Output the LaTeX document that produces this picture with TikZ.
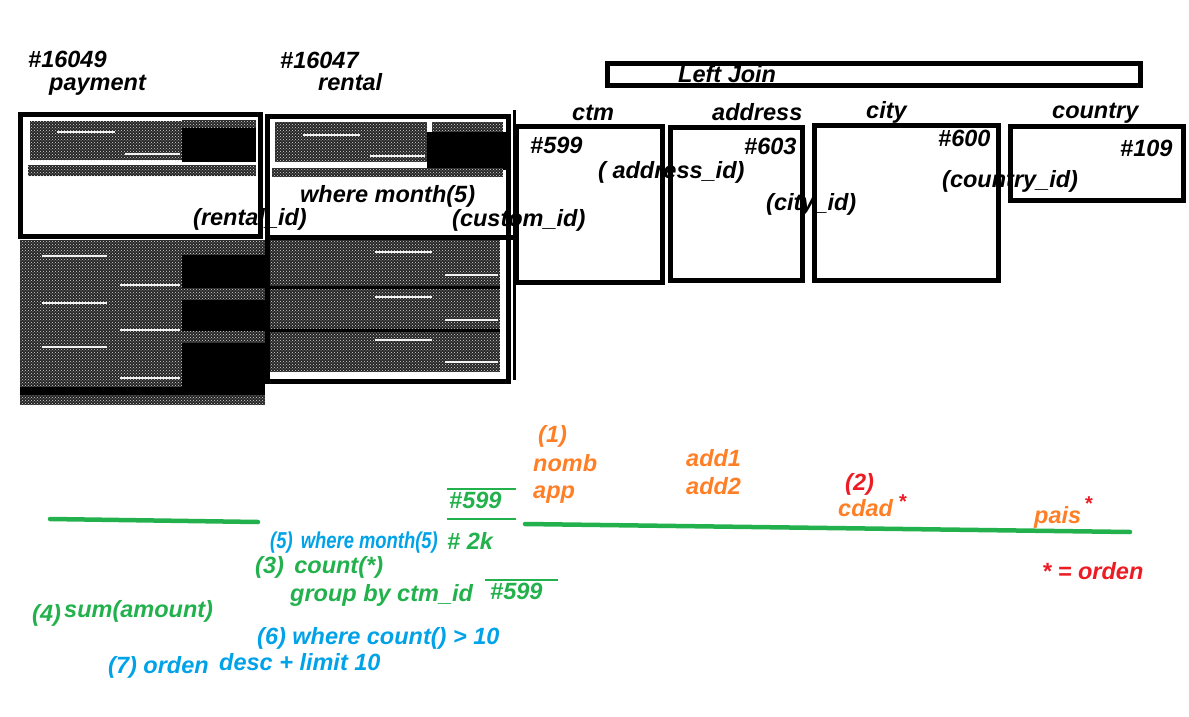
\documentclass[tikz,border=0pt]{standalone}
\usepackage{fontspec}
\setmainfont{Liberation Sans}
\usetikzlibrary{patterns}
\definecolor{porange}{RGB}{255,127,39}
\definecolor{pgreen}{RGB}{34,177,76}
\definecolor{pblue}{RGB}{0,162,232}
\definecolor{pred}{RGB}{237,28,36}
\tikzset{
  lbl/.style={font=\bfseries\itshape\fontsize{23.5}{26}\selectfont, inner sep=0pt, anchor=base west},
  thinlbl/.style={font=\bfseries\itshape\fontsize{23}{26}\selectfont, inner sep=0pt, anchor=base west, xscale=0.8},
  starlbl/.style={font=\bfseries\fontsize{20}{22}\selectfont, inner sep=0pt, anchor=base west, text=pred},
  frame/.style={draw=black, line width=5pt, inner sep=0pt},
  noisy/.style={fill=black!85, postaction={pattern=crosshatch dots, pattern color=white!70!gray}},
  solidblk/.style={fill=black},
  streak/.style={draw=white!90!gray, line width=2.5pt},
  gline/.style={draw=pgreen, line width=4.5pt, line cap=round},
  gthin/.style={draw=pgreen, line width=1.5pt}
}
\newcommand{\boxnode}[5]{% name, x1, y1, x2, y2
  \node[frame, minimum width={#4-#2}, minimum height={#5-#3}] (#1) at ({(#2+#4)/2},{(#3+#5)/2}) {};}
\begin{document}
\begin{tikzpicture}[x=1pt, y=-1pt]
\useasboundingbox[fill=white] (0,0) rectangle (1189,717);

% ---------- payment ----------
\path[noisy] (30,121) rectangle (182,160);
\path[noisy] (182,120) rectangle (256,128);
\path[solidblk] (182,128) rectangle (256,162);
\path[noisy] (28,165) rectangle (256,176);
\draw[streak] (57,132) -- (115,132);
\draw[streak] (125,154) -- (180,154);
\boxnode{paybox}{20}{114}{260}{236}
\path[noisy] (20,240) rectangle (182,387);
\path[solidblk] (20,387) rectangle (182,395);
\path[noisy] (20,395) rectangle (265,405);
\path[noisy] (182,240) rectangle (265,255);
\path[solidblk] (182,255) rectangle (265,288);
\path[noisy] (182,288) rectangle (265,300);
\path[solidblk] (182,300) rectangle (265,331);
\path[noisy] (182,331) rectangle (265,343);
\path[solidblk] (182,343) rectangle (265,395);
\draw[streak] (42,256) -- (107,256);
\draw[streak] (42,303) -- (107,303);
\draw[streak] (42,347) -- (107,347);
\draw[streak] (120,285) -- (180,285);
\draw[streak] (120,330) -- (180,330);
\draw[streak] (120,378) -- (180,378);

% ---------- rental ----------
\path[noisy] (275,122) rectangle (427,162);
\path[noisy] (432,122) rectangle (503,132);
\path[solidblk] (427,132) rectangle (508,170);
\path[noisy] (272,168) rectangle (503,177);
\draw[streak] (303,135) -- (360,135);
\draw[streak] (370,156) -- (425,156);
\boxnode{rentbox}{267}{116}{508}{381}
\draw[line width=5pt] (265,237) -- (515,237);
\path[noisy] (270,240) rectangle (500,372);
\draw[line width=3pt] (270,287) -- (500,287);
\draw[line width=3pt] (270,330) -- (500,330);
\draw[streak] (375,252) -- (432,252);
\draw[streak] (375,297) -- (432,297);
\draw[streak] (375,340) -- (432,340);
\draw[streak] (445,275) -- (498,275);
\draw[streak] (445,320) -- (498,320);
\draw[streak] (445,362) -- (498,362);
\draw[line width=3pt] (514,110) -- (514,380);

% ---------- join boxes ----------
\boxnode{joinbox}{607}{64}{1140}{86}
\boxnode{ctmbox}{516}{126}{662}{282}
\boxnode{addrbox}{670}{127}{802}{280}
\boxnode{citybox}{814}{125}{998}{280}
\boxnode{ctrybox}{1010}{126}{1183}{200}

% ---------- top labels ----------
\node[lbl] (n16049) at (28,68) {\#16049};
\node[lbl] (npay) at (49,90) {payment};
\node[lbl] (n16047) at (280,69) {\#16047};
\node[lbl] (nrent) at (318,91) {rental};
\node[lbl] (nwhere) at (300,202) {where month(5)};
\node[lbl] (nrid) at (193,225) {(rental\_id)};
\node[lbl] (ncid) at (452,226) {(custom\_id)};
\node[lbl] (nleft) at (678,82) {Left Join};
\node[lbl] (nctm) at (572,121) {ctm};
\node[lbl] (naddr) at (712,121) {address};
\node[lbl] (ncity) at (866,118) {city};
\node[lbl] (nctry) at (1052,118) {country};
\node[lbl] (n599) at (530,153) {\#599};
\node[lbl] (naid) at (598,178) {( address\_id)};
\node[lbl] (n603) at (744,154) {\#603};
\node[lbl] (ncyid) at (766,210) {(city\_id)};
\node[lbl] (n600) at (938,146) {\#600};
\node[lbl] (ncoid) at (942,187) {(country\_id)};
\node[lbl] (n109) at (1120,156) {\#109};

% ---------- bottom ----------
\draw[gline] (50,519) -- (258,522);
\draw[gline] (525,524) -- (1130,532);
\draw[gthin] (447,489) -- (516,489);
\draw[gthin] (447,519) -- (516,519);
\draw[gthin] (485,580) -- (558,580);

\node[lbl, text=porange] (o1) at (538,442) {(1)};
\node[lbl, text=porange] (onomb) at (533,471) {nomb};
\node[lbl, text=porange] (oapp) at (533,498) {app};
\node[lbl, text=pgreen] (g599a) at (449,508) {\#599};
\node[lbl, text=porange] (oadd1) at (686,466) {add1};
\node[lbl, text=porange] (oadd2) at (686,494) {add2};
\node[lbl, text=pred] (r2) at (845,490) {(2)};
\node[lbl, text=porange] (ocdad) at (838,516) {cdad};
\node[starlbl] (s1) at (899,508) {*};
\node[lbl, text=porange] (opais) at (1034,523) {pais};
\node[starlbl] (s2) at (1085,510) {*};
\node[lbl, text=pred] (rorden) at (1042,579) {* = orden};

\node[thinlbl, text=pblue] (b5) at (270,548) {(5)\, where month(5)};
\node[lbl, text=pgreen] (g2k) at (447,549) {\# 2k};
\node[lbl, text=pgreen] (g3) at (255,573) {(3)\, count(*)};
\node[lbl, text=pgreen] (ggrp) at (290,601) {group by ctm\_id};
\node[lbl, text=pgreen] (g599b) at (490,599) {\#599};
\node[lbl, text=pgreen] (g4) at (32,621) {(4)};
\node[lbl, text=pgreen] (gsum) at (64,617) {sum(amount)};
\node[lbl, text=pblue] (b6) at (257,644) {(6) where count() > 10};
\node[lbl, text=pblue] (b7) at (108,673) {(7) orden};
\node[lbl, text=pblue] (bdesc) at (219,670) {desc + limit 10};
\end{tikzpicture}
\end{document}
